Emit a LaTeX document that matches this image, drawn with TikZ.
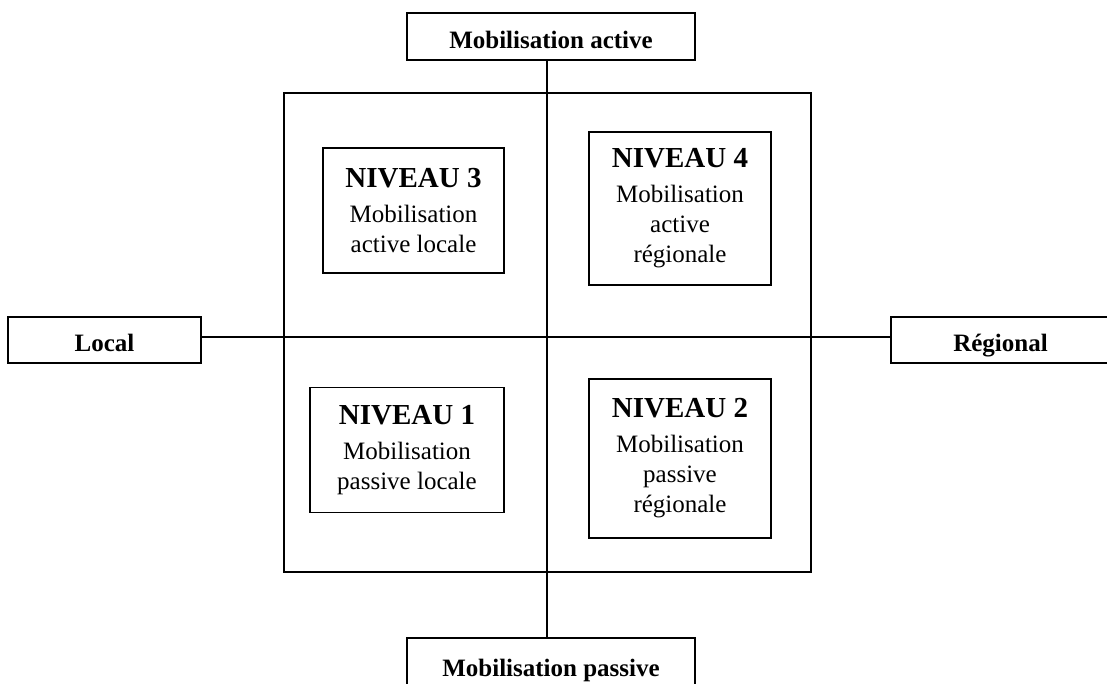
\documentclass[tikz,border=0pt]{standalone}
\usepackage{fontspec}
\setmainfont{Liberation Serif}
\begin{document}
\begin{tikzpicture}[x=1pt,y=-1pt,
  box/.style={draw,line width=1.2pt,inner sep=0pt,align=center},
  axislabel/.style={box,font=\fontsize{25}{29}\selectfont\bfseries,text height=23pt,text depth=0pt},
  level/.style={box,font=\fontsize{25}{30}\selectfont},
  axisline/.style={line width=1.5pt}]
\useasboundingbox (0,0) rectangle (1107,683);

% outer frame of the four quadrants
\node[box,minimum width=527pt,minimum height=479pt] (frame) at (547.5,332.5) {};
\coordinate (hc) at (547,337);

% axis labels
\node[axislabel,minimum width=288pt,minimum height=47pt] (top) at (551,36.5) {Mobilisation active};
\node[axislabel,minimum width=288pt,minimum height=54pt] (bottom) at (551,665) {Mobilisation passive};
\node[axislabel,minimum width=193pt,minimum height=46pt] (local) at (104.5,340) {Local};
\node[axislabel,minimum width=219pt,minimum height=46pt] (regional) at (1000.5,340) {Régional};

% axes
\draw[axisline] (top.south -| hc) -- (bottom.north -| hc);
\draw[axisline] (local.east |- hc) -- (regional.west |- hc);

% levels
\node[level,minimum width=181pt,minimum height=125pt] (n3) at (413.5,210.5)
  {{\fontsize{29}{30}\selectfont\bfseries NIVEAU 3}\\[5pt]Mobilisation\\active locale};
\node[level,minimum width=182pt,minimum height=153pt] (n4) at (680,208.5)
  {{\fontsize{29}{30}\selectfont\bfseries NIVEAU 4}\\[5pt]Mobilisation\\active\\régionale};
\node[level,minimum width=194pt,minimum height=125pt] (n1) at (407,450)
  {{\fontsize{29}{30}\selectfont\bfseries NIVEAU 1}\\[5pt]Mobilisation\\passive locale};
\node[level,minimum width=182pt,minimum height=159pt] (n2) at (680,458.5)
  {{\fontsize{29}{30}\selectfont\bfseries NIVEAU 2}\\[5pt]Mobilisation\\passive\\régionale};
\end{tikzpicture}
\end{document}
